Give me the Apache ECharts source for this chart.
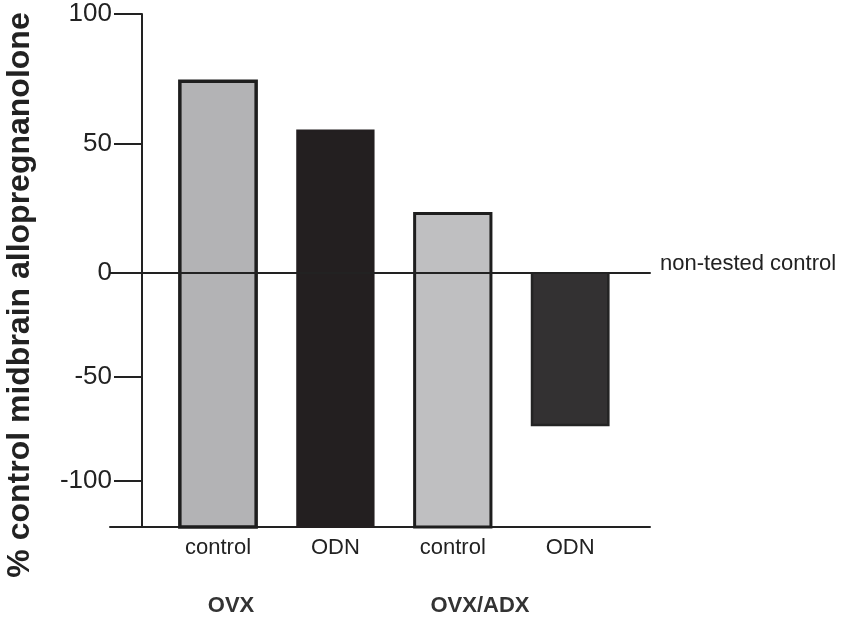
<!DOCTYPE html>
<html>
<head>
<meta charset="utf-8">
<script src="https://cdn.jsdelivr.net/npm/echarts@6/dist/echarts.min.js"></script>
<style>
  html, body { margin: 0; padding: 0; background: #fff; }
  #chart { width: 850px; height: 618px; }
</style>
</head>
<body>
<div id="chart"></div>
<script>
// data
const categories = ["control", "ODN", "control", "ODN"];
const groupLabels = ["OVX", "OVX/ADX"];
const values = [74, 55, 23, -73];
const upperTicks = [0, 50, 100];
const lowerTicks = [-100, -50];

// look of each bar
const barFill = ["#b3b3b5", "#231f20", "#bfbfc1", "#333132"];
const barEdge = ["#1e1e1e", "#231f20", "#1e1e1e", "#242424"];
const barEdgeWidth = [3.5, 2, 3, 2.5];

const LOWER_MIN = -122;
const FONT = "'Liberation Sans', Arial, sans-serif";
const INK = "#222";

// one bar piece between value 0 and vEnd, outline left open on the zero side
function barPiece(api, i, vEnd) {
  const pZero = api.coord([i, 0]);
  const pEnd = api.coord([i, vEnd]);
  const half = api.size([1, 0])[0] * 0.325;
  const x0 = pZero[0] - half;
  const x1 = pZero[0] + half;
  const yZ = pZero[1];
  const yE = pEnd[1];
  return {
    type: "group",
    children: [
      {
        type: "rect",
        shape: { x: x0, y: Math.min(yZ, yE), width: x1 - x0, height: Math.abs(yE - yZ) },
        style: { fill: barFill[i] },
      },
      {
        type: "polyline",
        shape: { points: [[x0, yZ], [x0, yE], [x1, yE], [x1, yZ]] },
        style: { fill: "none", stroke: barEdge[i], lineWidth: barEdgeWidth[i], lineJoin: "miter" },
      },
    ],
  };
}

const chart = echarts.init(document.getElementById("chart"), null, {
  renderer: "canvas",
});

const xBase = {
  type: "value",
  min: -0.92,
  max: 3.68,
  splitLine: { show: false },
  axisTick: { show: false },
};

const yLabel = {
  fontFamily: FONT,
  fontSize: 26,
  color: INK,
  margin: 30,
};

const option = {
  animation: false,
  grid: [
    { left: 110, right: 200, top: 14, height: 259 },
    { left: 110, right: 200, top: 273, height: 254 },
  ],
  xAxis: [
    {
      ...xBase,
      gridIndex: 0,
      z: 10,
      axisLine: { show: true, onZero: true, lineStyle: { color: INK, width: 2 } },
      axisLabel: { show: false },
    },
    {
      ...xBase,
      gridIndex: 1,
      position: "bottom",
      axisLine: { show: true, onZero: false, lineStyle: { color: INK, width: 2 } },
      axisLabel: {
        customValues: [0, 1, 2, 3],
        formatter: (v) => categories[v],
        fontFamily: FONT,
        fontSize: 22,
        color: INK,
        margin: 10,
      },
    },
  ],
  yAxis: [
    {
      type: "value",
      gridIndex: 0,
      min: 0,
      max: 100,
      interval: 50,
      offset: -32,
      splitLine: { show: false },
      axisLine: { show: true, onZero: false, lineStyle: { color: INK, width: 2 } },
      axisTick: {
        show: true,
        customValues: upperTicks,
        length: 28,
        lineStyle: { color: INK, width: 2 },
      },
      axisLabel: { ...yLabel, customValues: upperTicks, padding: [8, 0, 0, 0] },
    },
    {
      type: "value",
      gridIndex: 1,
      min: LOWER_MIN,
      max: 0,
      offset: -32,
      splitLine: { show: false },
      axisLine: { show: true, onZero: false, lineStyle: { color: INK, width: 2 } },
      axisTick: {
        show: true,
        customValues: lowerTicks,
        length: 28,
        lineStyle: { color: INK, width: 2 },
      },
      axisLabel: { ...yLabel, customValues: lowerTicks, padding: [5, 0, 0, 0] },
    },
  ],
  series: [
    {
      type: "custom",
      xAxisIndex: 0,
      yAxisIndex: 0,
      data: values.map((v, i) => [i, v]),
      renderItem: (params, api) => {
        const i = api.value(0);
        const v = api.value(1);
        if (v <= 0) return null;
        return barPiece(api, i, v);
      },
    },
    {
      type: "custom",
      xAxisIndex: 1,
      yAxisIndex: 1,
      data: values.map((v, i) => [i, v]),
      renderItem: (params, api) => {
        const i = api.value(0);
        const v = api.value(1);
        // positive bars rise from the bottom of the axis, negative ones hang from 0
        return barPiece(api, i, v > 0 ? LOWER_MIN : v);
      },
    },
  ],
  graphic: [
    {
      type: "text",
      x: 20,
      y: 295,
      rotation: Math.PI / 2,
      style: {
        text: "% control midbrain allopregnanolone",
        font: "bold 32px " + FONT,
        fill: INK,
        textAlign: "center",
        textVerticalAlign: "middle",
      },
    },
    {
      type: "text",
      x: 660,
      y: 264,
      style: {
        text: "non-tested control",
        font: "22px " + FONT,
        fill: INK,
        textAlign: "left",
        textVerticalAlign: "middle",
      },
    },
    {
      type: "text",
      x: 231,
      y: 606,
      style: {
        text: groupLabels[0],
        font: "bold 22px " + FONT,
        fill: "#333",
        textAlign: "center",
        textVerticalAlign: "middle",
      },
    },
    {
      type: "text",
      x: 480,
      y: 606,
      style: {
        text: groupLabels[1],
        font: "bold 22px " + FONT,
        fill: "#333",
        textAlign: "center",
        textVerticalAlign: "middle",
      },
    },
  ],
};
chart.setOption(option);
</script>
</body>
</html>
